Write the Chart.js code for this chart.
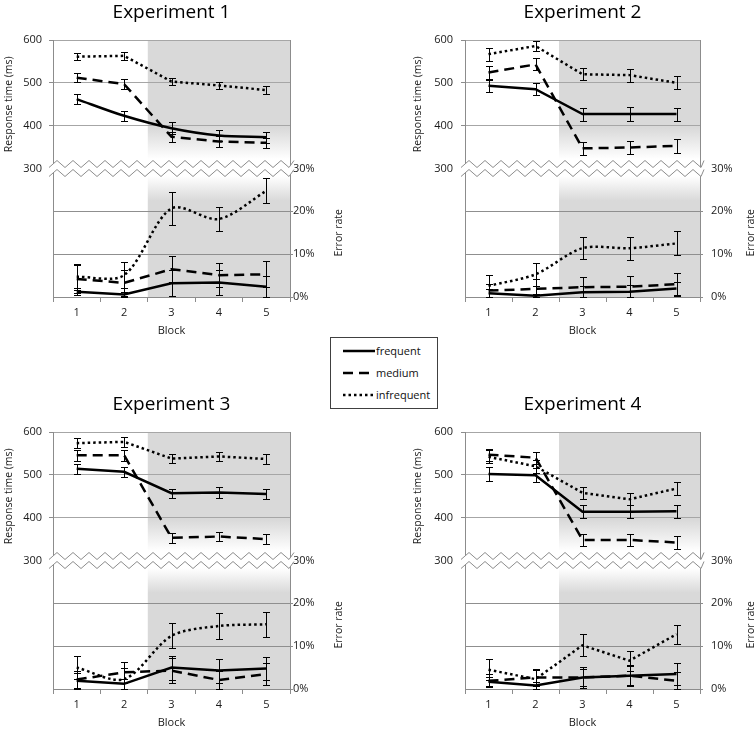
<!DOCTYPE html>
<html>
<head>
<meta charset="utf-8">
<script src="https://cdn.jsdelivr.net/npm/chart.js@4.4.1/dist/chart.umd.min.js"></script>
<style>
  html, body { margin: 0; padding: 0; background: #fff; }
  body { width: 756px; height: 731px; position: relative; overflow: hidden; font-family: 'Open Sans', sans-serif; }
  canvas { position: absolute; }
  #legend { position: absolute; left: 330px; top: 337px; width: 108px; height: 72px; border: 1px solid #404040; box-sizing: border-box; background: #fff; }
  #legend text { font-family: 'Open Sans', sans-serif; font-size: 11px; fill: #111; }
</style>
</head>
<body>
<canvas id="exp1" width="378" height="340" style="left:0px;top:0px"></canvas>
<canvas id="exp2" width="347" height="340" style="left:409px;top:0px"></canvas>
<canvas id="exp3" width="378" height="340" style="left:0px;top:392px"></canvas>
<canvas id="exp4" width="347" height="340" style="left:409px;top:392px"></canvas>
<div id="legend">
  <svg width="106" height="70">
    <line x1="12" y1="13" x2="44" y2="13" stroke="#000" stroke-width="2.5"/>
    <text x="45" y="17">frequent</text>
    <line x1="12" y1="35" x2="44" y2="35" stroke="#000" stroke-width="2.5" stroke-dasharray="10,6"/>
    <text x="45" y="39">medium</text>
    <line x1="12" y1="57" x2="44" y2="57" stroke="#000" stroke-width="2.5" stroke-dasharray="2.5,3"/>
    <text x="45" y="61">infrequent</text>
  </svg>
</div>
<script>
const blocks = ['1', '2', '3', '4', '5'];
const conditions = ['frequent', 'medium', 'infrequent'];
const titles = ['Experiment 1', 'Experiment 2', 'Experiment 3', 'Experiment 4'];
const shadedFromBlock = 2.5;   // blocks 3-5 are shaded
const rtTicks = [300, 400, 500, 600];
const errTicks = [0, 10, 20, 30];

// rows: frequent, medium, infrequent; columns: blocks 1-5
const exp1Rt    = [[462, 423, 394, 377, 373], [512, 497, 374, 363, 360], [561, 563, 503, 494, 483]];
const exp1RtSe  = [[12, 11, 14, 13, 13], [10, 11, 12, 12, 12], [8, 9, 9, 9, 9]];
const exp1Err   = [[1.2, 0.6, 3.2, 3.4, 2.4], [4.2, 3.3, 6.5, 5.1, 5.3], [4.7, 5.1, 20.7, 18.2, 24.8]];
const exp1ErrSe = [[0.8, 0.5, 3.0, 2.9, 2.4], [3.3, 3.0, 3.0, 2.8, 3.0], [3.0, 3.1, 3.9, 2.9, 2.9]];

const exp2Rt    = [[493, 485, 427, 427, 427], [524, 543, 347, 349, 353], [567, 586, 520, 518, 500]];
const exp2RtSe  = [[14, 14, 15, 16, 15], [16, 14, 15, 15, 16], [15, 12, 14, 15, 15]];
const exp2Err   = [[0.9, 0.3, 1.1, 1.2, 2.0], [1.5, 1.9, 2.3, 2.4, 3.0], [2.6, 5.3, 11.4, 11.4, 12.5]];
const exp2ErrSe = [[0.9, 0.4, 1.5, 1.5, 1.5], [1.5, 2.4, 2.4, 2.6, 2.7], [2.5, 2.7, 2.6, 2.7, 2.8]];

const exp3Rt    = [[514, 507, 457, 459, 455], [546, 546, 353, 356, 350], [574, 577, 538, 543, 537]];
const exp3RtSe  = [[12, 11, 11, 12, 11], [13, 13, 11, 11, 11], [11, 12, 11, 11, 11]];
const exp3Err   = [[1.9, 1.2, 5.0, 4.3, 4.8], [2.2, 3.9, 4.3, 2.1, 3.5], [5.0, 2.3, 12.4, 14.7, 15.1]];
const exp3ErrSe = [[1.9, 1.2, 2.8, 2.8, 2.7], [2.0, 2.5, 3.0, 2.0, 2.6], [2.6, 2.6, 2.9, 3.0, 2.9]];

const exp4Rt    = [[502, 499, 414, 414, 415], [547, 540, 348, 348, 342], [542, 520, 458, 443, 468]];
const exp4RtSe  = [[16, 16, 15, 15, 15], [14, 14, 15, 14, 15], [15, 15, 14, 14, 15]];
const exp4Err   = [[1.7, 0.8, 2.7, 3.1, 3.5], [1.9, 2.7, 2.7, 3.1, 1.9], [4.5, 2.3, 10.2, 6.6, 12.8]];
const exp4ErrSe = [[1.0, 0.8, 2.5, 2.5, 2.6], [1.5, 2.0, 2.0, 2.2, 2.0], [2.4, 2.2, 2.6, 2.3, 2.2]];

const FONT = "'Open Sans', sans-serif";
const TEXT = '#1a1a1a';
const AXIS_GREY = '#8c8c8c';
const lineStyles = [
    { borderDash: [] },
    { borderDash: [10, 6] },
    { borderDash: [2.5, 3] }
];

// gray shading for the later blocks, fading out towards the axis break
const shadePlugin = {
    id: 'shade',
    beforeDraw(chart) {
        const { ctx, chartArea: a, scales: { x, y, y2 } } = chart;
        const xs = x.getPixelForValue(shadedFromBlock - 1);
        const yMid = y.getPixelForValue(rtTicks[0]);
        const grey = '#d9d9d9';
        ctx.save();
        let g = ctx.createLinearGradient(0, y.getPixelForValue(395), 0, y.getPixelForValue(322));
        g.addColorStop(0, grey);
        g.addColorStop(1, '#ffffff');
        ctx.fillStyle = g;
        ctx.fillRect(xs, a.top, a.right - xs, yMid - a.top);
        g = ctx.createLinearGradient(0, y2.getPixelForValue(28.2), 0, y2.getPixelForValue(22.5));
        g.addColorStop(0, '#ffffff');
        g.addColorStop(1, grey);
        ctx.fillStyle = g;
        ctx.fillRect(xs, yMid, a.right - xs, a.bottom - yMid);
        ctx.restore();
    }
};

// double zigzag marking the break between the two y axes
const breakPlugin = {
    id: 'axisBreak',
    beforeDatasetsDraw(chart) {
        const { ctx, chartArea: a } = chart;
        const yb = chart.scales.y.getPixelForValue(rtTicks[0]);
        const x0 = a.left - 4, x1 = a.right + 4;
        const half = 8, amp = 7, gap = 9;
        const pts = [];
        for (let x = x0, k = 0; x < x1 + half; x += half, k++) {
            pts.push([Math.min(x, x1), k % 2 ? yb - 8 : yb - 8 + amp]);
        }
        ctx.save();
        ctx.beginPath();
        pts.forEach(([px, py], i) => i ? ctx.lineTo(px, py) : ctx.moveTo(px, py));
        for (let i = pts.length - 1; i >= 0; i--) ctx.lineTo(pts[i][0], pts[i][1] + gap);
        ctx.closePath();
        ctx.fillStyle = '#fff';
        ctx.fill();
        ctx.strokeStyle = AXIS_GREY;
        ctx.lineWidth = 1;
        [0, gap].forEach(off => {
            ctx.beginPath();
            pts.forEach(([px, py], i) => i ? ctx.lineTo(px, py + off) : ctx.moveTo(px, py + off));
            ctx.stroke();
        });
        ctx.restore();
    }
};

const errorBarPlugin = {
    id: 'errorBars',
    afterDatasetsDraw(chart) {
        const { ctx, chartArea: a } = chart;
        ctx.save();
        ctx.strokeStyle = '#000';
        ctx.lineWidth = 1;
        chart.data.datasets.forEach((ds, di) => {
            const meta = chart.getDatasetMeta(di);
            const sc = chart.scales[ds.yAxisID];
            meta.data.forEach((pt, i) => {
                const v = ds.data[i], e = ds.errors[i];
                const yHi = Math.round(sc.getPixelForValue(v + e)) + 0.5;
                const yLo = Math.round(Math.min(sc.getPixelForValue(v - e), a.bottom)) + 0.5;
                const x = Math.round(pt.x) + 0.5;
                ctx.beginPath();
                ctx.moveTo(x, yHi); ctx.lineTo(x, yLo);
                ctx.moveTo(x - 3.5, yHi); ctx.lineTo(x + 3.5, yHi);
                ctx.moveTo(x - 3.5, yLo); ctx.lineTo(x + 3.5, yLo);
                ctx.stroke();
            });
        });
        ctx.restore();
    }
};

// both y titles read bottom-to-top and sit beside their own half of the plot
const axisTitlePlugin = {
    id: 'axisTitles',
    afterDraw(chart, args, opts) {
        const { ctx, chartArea: a, scales: { y, y2 } } = chart;
        ctx.save();
        ctx.fillStyle = TEXT;
        ctx.font = '10.5px ' + FONT;
        ctx.textAlign = 'center';
        ctx.textBaseline = 'middle';
        const put = (text, x, yc) => {
            ctx.save();
            ctx.translate(x, yc);
            ctx.rotate(-Math.PI / 2);
            ctx.fillText(text, 0, 0);
            ctx.restore();
        };
        put('Response time (ms)', opts.leftX, (y.getPixelForValue(rtTicks[0]) + y.getPixelForValue(rtTicks[3])) / 2);
        put('Error rate', a.right + opts.rightOff, (y2.getPixelForValue(errTicks[0]) + y2.getPixelForValue(errTicks[3])) / 2);
        ctx.restore();
    }
};

function makePanel(id, title, rt, rtSe, err, errSe, lay) {
    const datasets = [];
    conditions.forEach((c, i) => {
        datasets.push({
            label: c, data: rt[i], errors: rtSe[i], yAxisID: 'y',
            borderColor: '#000', borderWidth: 2.5, pointRadius: 0,
            tension: lay.smoothRt[i] ? 0.3 : 0, ...lineStyles[i]
        });
    });
    conditions.forEach((c, i) => {
        datasets.push({
            label: c, data: err[i], errors: errSe[i], yAxisID: 'y2',
            borderColor: '#000', borderWidth: 2.5, pointRadius: 0,
            tension: lay.smoothErr[i] ? 0.3 : 0, ...lineStyles[i]
        });
    });

    new Chart(document.getElementById(id).getContext('2d'), {
        type: 'line',
        data: { labels: blocks, datasets: datasets },
        options: {
            responsive: false,
            animation: false,
            events: [],
            layout: { autoPadding: false, padding: 0 },
            plugins: {
                legend: { display: false },
                tooltip: { enabled: false },
                title: {
                    display: true,
                    text: title,
                    fullSize: false,
                    color: '#000',
                    font: { family: FONT, size: 19, weight: 'normal' },
                    padding: { top: 1.6, bottom: 15.6 }
                },
                axisTitles: { leftX: 9, rightOff: lay.rightTitleOff }
            },
            scales: {
                x: {
                    type: 'category',
                    offset: true,
                    grid: { offset: true, drawOnChartArea: false, tickLength: 5, color: AXIS_GREY },
                    border: { color: AXIS_GREY },
                    ticks: { padding: 4, color: TEXT, font: { family: FONT, size: 11 } },
                    title: {
                        display: true, text: 'Block', color: TEXT,
                        font: { family: FONT, size: 11 },
                        padding: { top: 0, bottom: 2.7 }
                    },
                    afterFit: s => { s.height = 43; }
                },
                y: {
                    position: 'left',
                    min: 0, max: 600,
                    afterBuildTicks: s => { s.ticks = rtTicks.map(v => ({ value: v })); },
                    ticks: { padding: lay.leftPad, color: TEXT, font: { family: FONT, size: 11 } },
                    grid: {
                        tickLength: 4,
                        color: c => c.tick && c.tick.value > rtTicks[0] ? '#a6a6a6' : 'rgba(0,0,0,0)',
                        tickColor: AXIS_GREY
                    },
                    border: { color: AXIS_GREY },
                    afterFit: s => { s.width = lay.leftW; }
                },
                y2: {
                    position: 'right',
                    min: 0, max: 60,
                    afterBuildTicks: s => { s.ticks = errTicks.map(v => ({ value: v })); },
                    ticks: {
                        padding: lay.rightPad, color: TEXT, font: { family: FONT, size: 11 },
                        callback: v => v + '%'
                    },
                    grid: {
                        tickLength: 3,
                        color: c => c.tick && c.tick.value > 0 && c.tick.value < errTicks[3] ? '#8f8f8f' : 'rgba(0,0,0,0)',
                        tickColor: AXIS_GREY
                    },
                    border: { color: AXIS_GREY },
                    afterFit: s => { s.width = lay.rightW; }
                }
            }
        },
        plugins: [shadePlugin, breakPlugin, errorBarPlugin, axisTitlePlugin]
    });
}

const leftLayout = { leftW: 53, rightW: 88, leftPad: 7, rightPad: 0, rightTitleOff: 49 };
const rightLayout = { leftW: 56, rightW: 56, leftPad: 8, rightPad: 8, rightTitleOff: 51 };

makePanel('exp1', titles[0], exp1Rt, exp1RtSe, exp1Err, exp1ErrSe,
    { ...leftLayout, smoothRt: [true, false, false], smoothErr: [false, false, true] });
makePanel('exp2', titles[1], exp2Rt, exp2RtSe, exp2Err, exp2ErrSe,
    { ...rightLayout, smoothRt: [false, false, false], smoothErr: [false, false, true] });
makePanel('exp3', titles[2], exp3Rt, exp3RtSe, exp3Err, exp3ErrSe,
    { ...leftLayout, smoothRt: [false, false, false], smoothErr: [false, false, true] });
makePanel('exp4', titles[3], exp4Rt, exp4RtSe, exp4Err, exp4ErrSe,
    { ...rightLayout, smoothRt: [false, false, false], smoothErr: [false, false, false] });
</script>
</body>
</html>
